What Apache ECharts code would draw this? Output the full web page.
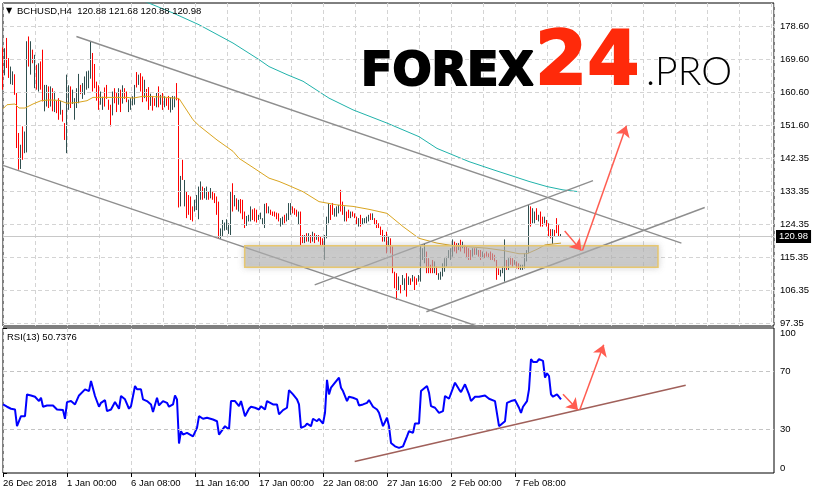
<!DOCTYPE html>
<html><head><meta charset="utf-8">
<script src="https://cdn.jsdelivr.net/npm/echarts@6/dist/echarts.min.js"></script>
<style>html,body{margin:0;padding:0;background:#fff}#c{width:815px;height:494px}</style>
</head><body><div id="c"></div>
<script>
// ---- OHLC bars (high, low, direction 1=up/dark 0=down/red), H4 bars from 26 Dec 2018 16:00
const barHigh = [172.5,172.3,175.1,169.6,167.3,166.0,165.2,160.1,149.2,146.0,
151.0,149.6,174.2,175.5,174.2,171.9,170.5,167.8,168.2,168.7,
171.9,162.3,162.3,161.9,161.9,161.4,160.5,158.0,158.7,158.0,
155.5,151.9,165.1,162.2,161.9,161.0,158.7,161.4,165.3,162.3,
162.8,164.6,166.0,166.2,174.2,171.0,168.0,163.2,162.2,160.5,
159.1,161.6,162.3,158.3,156.9,160.5,161.4,160.1,161.4,161.0,
162.2,161.4,160.5,158.3,158.7,159.2,162.3,165.8,165.1,165.5,
164.6,163.7,161.2,161.7,159.9,159.3,158.7,160.1,161.9,159.6,
160.1,159.2,158.7,159.3,159.0,159.3,159.2,162.8,158.7,137.5,
141.9,136.4,133.2,132.3,131.9,129.2,131.0,132.3,134.6,136.0,
134.6,134.2,134.6,133.2,134.2,133.2,132.8,131.9,130.5,123.2,
125.5,124.8,125.7,124.6,133.2,135.5,132.3,131.4,131.0,131.2,
131.0,127.8,126.6,126.9,129.2,128.4,128.7,128.3,126.9,127.5,
126.0,129.9,130.1,129.2,128.3,127.8,127.8,127.5,127.3,126.0,
126.4,126.9,127.3,130.1,130.1,129.2,128.7,128.3,127.8,127.8,
121.4,121.4,121.9,121.9,121.4,122.3,121.9,121.4,121.4,121.0,
120.5,121.4,126.4,130.1,129.6,130.1,128.7,129.2,129.6,133.7,
130.5,129.2,127.8,128.3,127.8,127.8,127.3,126.4,126.0,126.9,
126.0,126.0,126.4,126.9,127.3,127.3,126.0,125.5,124.6,123.7,
122.8,121.4,122.3,121.0,120.5,118.3,111.4,111.0,110.1,107.8,
110.5,109.6,111.0,110.1,109.6,110.5,110.1,109.6,110.5,118.7,
117.8,119.2,116.9,115.1,113.3,114.6,114.2,112.8,111.0,111.4,
113.7,115.1,115.5,117.3,117.8,120.2,119.6,119.2,119.2,120.1,
119.6,118.7,118.2,117.8,117.3,117.8,117.8,117.8,117.3,117.3,
116.9,116.4,116.9,116.4,116.9,116.4,116.0,114.6,112.3,111.9,
112.8,120.2,114.6,115.1,115.5,115.1,114.6,114.2,113.7,113.3,
113.3,116.4,117.3,129.6,129.2,128.7,127.8,128.7,126.9,127.8,
126.4,126.4,125.5,124.6,123.0,123.0,122.8,126.0,124.1,121.68];
const barLow = [161.0,164.9,166.9,164.2,162.5,162.3,159.6,145.1,139.2,139.4,
141.9,143.7,143.9,167.3,165.1,168.2,161.4,161.0,160.5,161.0,
157.8,155.1,156.4,156.0,156.4,155.1,154.9,154.6,152.8,154.2,
152.3,147.3,143.7,155.5,156.0,157.1,152.8,156.0,157.3,159.8,
158.5,159.6,161.0,161.4,164.0,160.5,161.4,158.0,155.5,156.9,
155.5,156.4,158.5,155.5,151.0,154.0,157.3,154.9,156.9,154.9,
157.2,158.5,157.6,154.9,155.5,156.7,156.9,161.6,162.3,160.5,
157.6,158.7,157.8,155.5,156.6,155.3,156.6,156.2,156.2,156.9,
155.5,156.2,156.6,155.5,154.8,155.5,156.2,158.1,128.9,129.2,
136.4,129.2,126.0,126.9,125.5,125.1,127.8,128.2,125.7,131.0,
131.0,131.4,131.0,131.0,131.4,131.0,130.1,126.9,120.5,120.3,
121.0,122.6,122.8,121.7,121.4,127.8,129.2,128.3,127.8,127.3,
125.7,123.3,123.9,125.1,125.1,125.5,125.1,124.8,125.5,125.7,
124.2,123.3,127.3,127.3,126.9,126.6,126.4,125.7,125.1,123.7,
124.2,124.6,125.1,125.5,126.9,127.3,126.9,126.4,124.2,118.7,
119.2,119.2,119.6,119.6,119.2,119.6,119.2,120.1,119.6,118.7,
118.7,114.6,120.5,124.6,125.5,126.9,126.4,126.4,127.3,127.8,
126.9,125.1,125.1,126.0,126.0,126.4,126.0,124.2,123.7,123.7,
124.2,124.6,124.6,125.1,125.5,125.5,124.2,123.3,123.3,121.4,
119.6,119.6,116.4,118.3,116.4,111.0,106.9,103.7,106.4,105.5,
107.8,106.4,104.6,107.8,107.8,108.7,106.4,107.8,108.7,108.7,
114.6,113.7,111.0,111.0,111.0,111.0,111.0,110.5,109.2,109.2,
110.1,111.4,112.8,115.1,114.6,115.5,116.9,116.4,117.3,116.9,
117.8,116.4,115.1,114.6,114.6,115.5,116.0,116.0,115.5,114.6,
115.1,115.1,115.5,115.1,114.6,114.6,114.2,109.2,110.5,110.1,
111.0,108.7,111.9,111.9,113.3,112.8,113.3,112.3,112.1,111.9,
111.9,112.3,114.2,116.4,123.7,124.6,124.6,125.5,125.1,123.7,
123.7,124.6,123.7,121.0,120.5,119.0,121.0,121.9,121.0,120.88];
const barUp = [0,1,0,0,1,1,0,0,0,1, 0,1,1,0,1,0,1,0,1,0, 0,1,1,0,1,0,1,0,0,1,
0,0,1,1,0,1,1,1,1,0, 1,1,1,1,1,0,0,0,0,1, 1,0,0,0,0,1,0,0,1,0,
1,0,0,1,1,1,1,0,1,0, 0,1,0,0,1,0,0,1,0,1, 0,1,0,0,1,1,1,0,0,1,
0,1,0,0,0,0,1,1,1,1, 0,1,1,0,1,0,0,0,0,1, 1,1,1,1,1,0,1,0,1,0,
0,0,1,1,1,0,0,0,1,1, 1,1,0,1,0,0,0,0,0,1, 1,0,1,1,1,0,0,0,1,0,
0,1,0,1,0,1,0,1,0,0, 0,1,1,1,0,0,1,1,1,0, 0,1,0,0,1,0,0,0,1,0,
1,1,1,1,0,1,0,0,0,0, 0,1,0,1,0,0,0,0,1,0, 1,1,0,1,0,1,0,0,1,1,
1,1,0,0,0,0,1,0,1,1, 1,1,1,1,1,1,0,0,1,0, 1,0,0,0,0,1,0,1,0,0,
1,0,0,0,0,0,0,0,0,1, 1,1,0,1,0,0,1,0,0,1, 1,1,1,1,0,1,1,0,1,0,
0,1,0,0,0,1,0,0,0,1];

// ---- moving averages, [bar index, value]
const maSlow = [[0,155.8],[2,156.9],[6,157.1],[8,156.0],[11,156.0],[15,157.1],[19,158.0],[23,158.2],[28,158.1],[32,157.3],[37,157.5],[42,158.0],[45,158.9],[53,158.9],[62,158.9],[65,158.7],[70,159.2],[80,159.0],[88,158.6],[95,152.8],[98,151.2],[107,147.3],[115,144.2],[118,142.3],[125,139.8],[133,136.9],[138,136.0],[142,135.1],[150,133.2],[158,130.5],[167,129.6],[175,129.2],[183,128.4],[192,127.3],[200,123.7],[208,120.5],[217,119.2],[225,118.5],[233,118.2],[242,117.8],[250,117.2],[258,116.3],[262,116.3],[267,117.5],[271,118.7],[279,119.2]];
const maLong = [[70,185.3],[72,184.8],[85,181.9],[98,178.7],[115,173.7],[128,169.2],[133,167.3],[142,165.1],[150,163.3],[163,158.7],[175,155.5],[192,151.9],[208,148.2],[217,145.0],[233,141.4],[245,139.2],[263,136.0],[272,134.6],[280,133.7],[288,133.2]];

// ---- RSI(13), [bar index, value]
const rsiPts = [[0,47.3],[2,45.7],[4,44.3],[6,43.8],[7,32.3],[9,39.2],[11,39.2],[12,54.2],[14,53.5],[16,52.6],[18,49.6],[19,51.9],[20,45.7],[22,46.6],[23,45.7],[25,46.6],[27,43.8],[28,45.0],[30,43.4],[31,37.4],[32,48.9],[34,49.6],[36,47.3],[38,53.5],[39,53.5],[41,57.7],[43,56.5],[44,63.5],[46,53.1],[48,45.7],[49,48.4],[51,50.3],[52,42.7],[54,43.8],[56,48.9],[58,44.3],[59,53.1],[61,50.8],[63,44.3],[64,46.1],[66,60.0],[67,57.7],[69,57.7],[70,50.8],[72,49.6],[74,47.3],[75,42.0],[77,51.9],[78,46.6],[80,49.6],[82,48.4],[83,45.7],[85,47.3],[86,53.5],[87,50.8],[88,20.3],[89,28.8],[90,26.5],[92,27.7],[93,26.5],[95,25.3],[97,31.1],[98,39.2],[100,37.4],[102,38.1],[103,38.1],[105,36.9],[107,35.7],[108,26.5],[109,27.7],[111,32.3],[113,30.0],[114,49.6],[116,49.6],[118,46.1],[119,49.6],[121,39.2],[123,44.3],[124,45.7],[126,45.0],[128,43.8],[129,46.1],[131,43.8],[132,49.6],[133,50.3],[135,47.3],[137,47.3],[138,40.4],[140,43.4],[142,45.0],[143,57.2],[145,54.2],[147,50.8],[148,47.3],[149,31.1],[151,32.3],[152,34.1],[154,32.3],[155,37.4],[157,35.7],[158,37.4],[160,34.1],[161,41.5],[162,64.2],[163,54.2],[164,58.8],[165,57.7],[166,62.3],[168,65.8],[169,58.8],[170,56.5],[172,49.6],[173,52.6],[175,51.9],[177,50.8],[178,46.6],[180,47.3],[182,48.4],[183,50.3],[185,45.7],[187,43.8],[188,41.5],[190,32.3],[192,38.1],[193,32.3],[194,20.7],[196,18.4],[198,17.3],[199,18.0],[200,18.4],[201,18.9],[202,25.3],[203,28.8],[205,27.7],[206,34.1],[208,34.1],[209,56.5],[210,55.8],[212,60.0],[213,55.4],[214,46.1],[216,45.0],[217,46.1],[218,41.5],[220,42.7],[221,53.1],[223,51.2],[224,50.8],[226,62.3],[228,57.7],[229,55.8],[231,61.2],[233,54.2],[234,49.6],[236,52.6],[238,52.6],[241,53.5],[243,51.2],[244,51.9],[246,49.6],[248,32.3],[249,32.7],[251,35.7],[252,48.4],[254,49.6],[256,50.3],[258,45.0],[259,41.5],[260,45.7],[262,49.6],[263,57.7],[264,78.5],[265,76.6],[267,76.6],[268,78.5],[270,77.3],[271,65.8],[272,68.8],[273,66.9],[274,54.2],[275,52.6],[277,54.2],[278,53.5],[279,50.7]];

// ---- drawn objects, [bar index, price]
const channelUpper = [[36.7,175.5],[339.2,119.2]];
const channelLower = [[0,140.4],[248.4,94.5]];
const riseUpper = [[155.85,107.8],[295,136.2]];
const riseLower = [[211.7,100.5],[350.85,128.9]];
const zoneBox = [[120.85,118.5],[327.5,112.6]];
const priceArrows = [[[280.85,122.5],[289.2,117.15]],[[289.7,117.15],[311.7,151.2]]];
const rsiArrows = [[[280,54.3],[287.5,43.4]],[[288.35,43.4],[300.35,88.4]]];
const rsiTrend = [[175.85,8.0],[341.35,60.5]];
const lastPrice = 120.98;

// ---- axis ticks
const priceTickVals = [97.35,106.35,115.35,124.35,133.35,142.35,151.35,160.35,169.35,178.35];
const priceTickLabels = ["97.35","106.35","115.35","124.35","133.35","142.35","151.60","160.60","169.60","178.60"];
const rsiTicks = [0,30,70,100];
const rsiLevels = [30,70];
const dateLabels = ["26 Dec 2018","1 Jan 00:00","6 Jan 08:00","11 Jan 16:00","17 Jan 00:00","22 Jan 08:00","27 Jan 16:00","2 Feb 00:00","7 Feb 08:00"];
const barsPerLabel = 32;
const headerText = "BCHUSD,H4  120.88 121.68 120.88 120.98";
const rsiText = "RSI(13) 50.7376";

const FONT = 'Liberation Sans, Arial, sans-serif';
const UP_COLOR = '#2F4F4F', DOWN_COLOR = '#FF0000';
const gridDash = {color:'#d4d4d4', type:[4,3], width:1};
// candlestick items: [index, open, close, low, high]; open/close are not drawn (1px bars), only high-low range
const bars = barHigh.map((h,i)=>{
  const c = barUp[i] ? UP_COLOR : DOWN_COLOR;
  return {value:[i, barLow[i], barLow[i], barLow[i], h],
          itemStyle:{color:c, color0:c, borderColor:c, borderColor0:c, borderColorDoji:c}};
});
const dateTicks = dateLabels.map((_,k)=>k*barsPerLabel);

const chart = echarts.init(document.getElementById('c'), null, {renderer:'canvas'});
const xCommon = {type:'value', min:0, max:385.5, interval:16,
  splitLine:{show:true, lineStyle:gridDash}, axisLine:{show:false}};

chart.setOption({
  animation:false,
  backgroundColor:'#fff',
  grid:[
    {left:3, top:3, width:771, height:323, show:true, borderColor:'#000', borderWidth:1},
    {left:3, top:328, width:771, height:145, show:true, borderColor:'#000', borderWidth:1}
  ],
  xAxis:[
    Object.assign({gridIndex:0, axisTick:{show:false}, axisLabel:{show:false}}, xCommon),
    Object.assign({gridIndex:1,
      axisTick:{show:true, customValues:dateTicks, length:4, lineStyle:{color:'#000'}},
      axisLabel:{customValues:dateTicks, align:'left', margin:5, color:'#000', fontSize:9.5, fontFamily:FONT,
        formatter:v=>{const k=Math.round(v/barsPerLabel); return (Math.abs(v-k*barsPerLabel)<0.01 && k<dateLabels.length)?dateLabels[k]:'';}}
    }, xCommon)
  ],
  yAxis:[
    {gridIndex:0, type:'value', position:'right', min:96.61, max:184.62, scale:true,
     splitLine:{show:false}, axisLine:{show:false},
     axisTick:{show:true, customValues:priceTickVals, length:4, lineStyle:{color:'#000'}},
     axisLabel:{customValues:priceTickVals, margin:6, color:'#000', fontSize:9.5, fontFamily:FONT,
       formatter:v=>{let b=0; priceTickVals.forEach((t,k)=>{if(Math.abs(t-v)<Math.abs(priceTickVals[b]-v))b=k;}); return priceTickLabels[b];}}},
    {gridIndex:1, type:'value', position:'right', min:0, max:100,
     splitLine:{show:false}, axisLine:{show:false},
     axisTick:{show:true, customValues:rsiTicks, length:4, lineStyle:{color:'#000'}},
     axisLabel:{customValues:rsiTicks, margin:6, color:'#000', fontSize:9.5, fontFamily:FONT,
       verticalAlignMinLabel:'bottom', verticalAlignMaxLabel:'top', formatter:v=>String(v)}}
  ],
  series:[
    {type:'line', xAxisIndex:0, yAxisIndex:0, data:[], z:1, silent:true,
     markLine:{silent:true, symbol:'none', label:{show:false}, lineStyle:gridDash,
       data:priceTickVals.map(v=>({yAxis:v}))}},
    {type:'line', xAxisIndex:0, yAxisIndex:0, data:[], z:1, silent:true,
     markLine:{silent:true, symbol:'none', lineStyle:{color:'#c8c8c8', type:'solid', width:1},
       label:{show:true, position:'end', distance:2, formatter:String(lastPrice), color:'#fff', backgroundColor:'#000',
         padding:[2,3,1,3], fontSize:9.5, fontFamily:FONT},
       data:[{yAxis:lastPrice}]}},
    {type:'candlestick', xAxisIndex:0, yAxisIndex:0, z:3, clip:true, data:bars,
     encode:{x:0, y:[1,2,3,4]}, barWidth:1, large:false, progressive:0,
     itemStyle:{borderWidth:1}},
    {type:'line', xAxisIndex:0, yAxisIndex:0, data:maSlow, symbol:'none', z:4, clip:true,
     lineStyle:{color:'#DAA520', width:1}},
    {type:'line', xAxisIndex:0, yAxisIndex:0, data:maLong, symbol:'none', z:4, clip:true,
     lineStyle:{color:'#20B2AA', width:1}},
    {type:'lines', coordinateSystem:'cartesian2d', xAxisIndex:0, yAxisIndex:0, z:5, clip:true,
     lineStyle:{color:'#8e8e8e', width:1.4, opacity:1},
     data:[channelUpper, channelLower, riseUpper, riseLower].map(c=>({coords:c}))},
    {type:'custom', xAxisIndex:0, yAxisIndex:0, z:6, data:[zoneBox[0].concat(zoneBox[1])],
     renderItem:(p,api)=>{
       const a=api.coord([api.value(0),api.value(1)]), b=api.coord([api.value(2),api.value(3)]);
       return {type:'rect', shape:{x:a[0],y:a[1],width:b[0]-a[0],height:b[1]-a[1]},
         style:{fill:'rgba(185,185,185,0.55)', stroke:'rgba(232,196,100,0.9)', lineWidth:1.5,
           shadowBlur:6, shadowColor:'rgba(120,120,120,0.45)'}};
     }},
    {type:'lines', coordinateSystem:'cartesian2d', xAxisIndex:0, yAxisIndex:0, z:7,
     symbol:['none','arrow'], symbolSize:[0,11],
     lineStyle:{color:'#FF5C50', width:1.5, opacity:1},
     data:priceArrows.map(c=>({coords:c}))},
    // RSI panel
    {type:'line', xAxisIndex:1, yAxisIndex:1, data:rsiPts, symbol:'none', z:4,
     lineStyle:{color:'#0000FF', width:2},
     markLine:{silent:true, symbol:'none', label:{show:false}, lineStyle:{color:'#c4c4c4', type:[4,3], width:1},
       data:rsiLevels.map(v=>({yAxis:v}))}},
    {type:'lines', coordinateSystem:'cartesian2d', xAxisIndex:1, yAxisIndex:1, z:5,
     lineStyle:{color:'#A0605A', width:1.5, opacity:1},
     data:[{coords:rsiTrend}]},
    {type:'lines', coordinateSystem:'cartesian2d', xAxisIndex:1, yAxisIndex:1, z:7,
     symbol:['none','arrow'], symbolSize:[0,11],
     lineStyle:{color:'#FF5C50', width:1.5, opacity:1},
     data:rsiArrows.map(c=>({coords:c}))}
  ],
  graphic:[
    {type:'text', left:6, top:7, style:{text:'▼', font:'8px DejaVu Sans', fill:'#000'}, z:100},
    {type:'text', left:17, top:6, style:{text:headerText, font:'9.5px '+FONT, fill:'#000'}, z:100},
    {type:'text', left:7, top:332, style:{text:rsiText, font:'9.5px '+FONT, fill:'#000'}, z:100},
    {type:'text', x:361, y:50, style:{text:'FOREX', font:'bold 46px DejaVu Sans', fill:'#000', stroke:'#000', lineWidth:2}, z:100},
    {type:'text', x:535, y:27, style:{text:'24', font:'bold 75px DejaVu Sans', fill:'#FF2A0A', stroke:'#FF2A0A', lineWidth:2}, z:100},
    {type:'text', x:646, y:53, style:{text:'.PRO', font:'300 39px Lato, sans-serif', fill:'#000'}, z:100}
  ]
});
</script></body></html>
